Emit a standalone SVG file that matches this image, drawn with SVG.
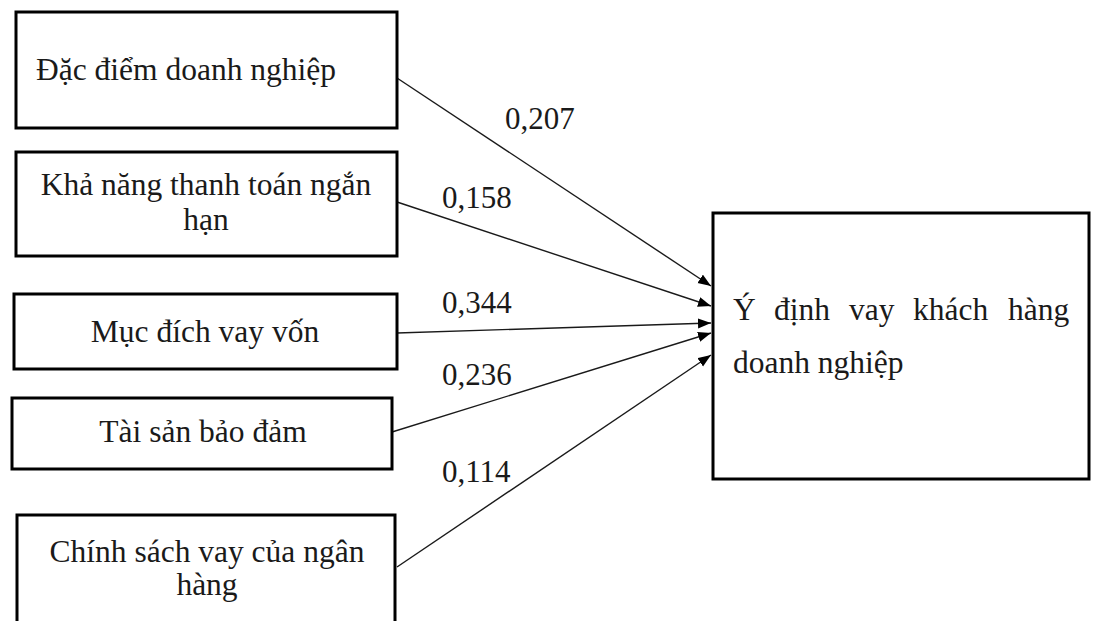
<svg xmlns="http://www.w3.org/2000/svg" width="1093" height="621" viewBox="0 0 1093 621">
<style>
.box{fill:#fff;stroke:#000;stroke-width:3}
.t{font-family:"Liberation Serif","Times New Roman",serif;font-size:31.5px;fill:#1a1a1a}
.m{text-anchor:middle}
.lbl{font-family:"Liberation Serif","Times New Roman",serif;font-size:31px;fill:#1a1a1a}
.c{stroke:#1a1a1a;stroke-width:1.4;fill:none;marker-end:url(#ah)}
</style>
<defs>
<marker id="ah" markerUnits="userSpaceOnUse" markerWidth="14" markerHeight="12" refX="13" refY="5" orient="auto">
<path d="M0,0 L13,5 L0,10 Z" fill="#000"/>
</marker>
</defs>
<rect width="1093" height="621" fill="#fff"/>
<g id="connectors">
<line class="c" x1="397" y1="78" x2="711" y2="286"/>
<line class="c" x1="397" y1="202" x2="711" y2="306"/>
<line class="c" x1="397" y1="333" x2="711" y2="323"/>
<line class="c" x1="392" y1="432" x2="711" y2="333"/>
<line class="c" x1="397" y1="567" x2="711" y2="355"/>
</g>
<g id="labels">
<text class="lbl" x="505" y="129">0,207</text>
<text class="lbl" x="442" y="208">0,158</text>
<text class="lbl" x="442" y="313">0,344</text>
<text class="lbl" x="442" y="385">0,236</text>
<text class="lbl" x="442" y="482">0,114</text>
</g>
<g id="n1">
<rect class="box" x="16" y="12" width="381" height="116"/>
<text class="t" x="36" y="80">Đặc điểm doanh nghiệp</text>
</g>
<g id="n2">
<rect class="box" x="16" y="152" width="381" height="104"/>
<text class="t m" x="206" y="195">Khả năng thanh toán ngắn</text>
<text class="t m" x="206" y="230">hạn</text>
</g>
<g id="n3">
<rect class="box" x="14" y="294" width="383" height="75"/>
<text class="t m" x="205" y="342">Mục đích vay vốn</text>
</g>
<g id="n4">
<rect class="box" x="12" y="398" width="380" height="71"/>
<text class="t m" x="203" y="442">Tài sản bảo đảm</text>
</g>
<g id="n5">
<rect class="box" x="17" y="515" width="378" height="120"/>
<text class="t m" x="207" y="562">Chính sách vay của ngân</text>
<text class="t m" x="207" y="595">hàng</text>
</g>
<g id="n6">
<rect class="box" x="713" y="213" width="376" height="266"/>
<text class="t" y="320"><tspan x="733">Ý</tspan><tspan x="774">định</tspan><tspan x="849">vay</tspan><tspan x="913">khách</tspan><tspan x="1008">hàng</tspan></text>
<text class="t" x="733" y="373">doanh nghiệp</text>
</g>
</svg>
